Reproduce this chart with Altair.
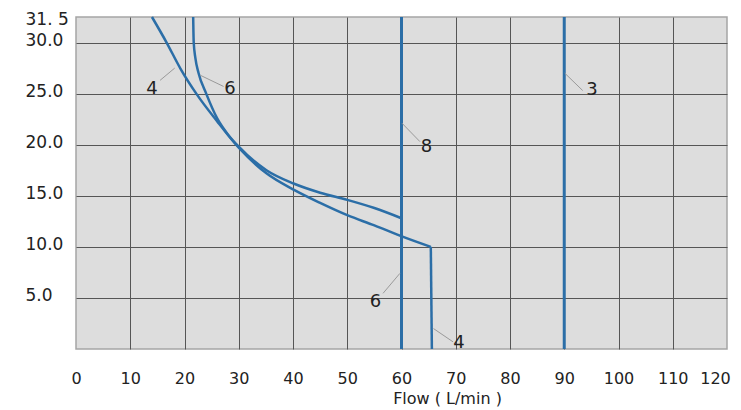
import altair as alt
import pandas as pd

# ---- data ----
c4_x = [14.0, 16.7, 19.3, 22.3, 26.0, 30.0, 35.1, 40.1, 45.0, 50.0, 55.0, 59.7, 65.4]
c4_y = [32.5, 30.0, 27.4, 24.9, 22.3, 19.7, 17.2, 15.6, 14.3, 13.1, 12.1, 11.1, 10.0]
c4_drop_x = [65.4, 65.6]
c4_drop_y = [10.0, 0.0]

c6_x = [21.6, 21.7, 22.0, 22.6, 24.0, 26.0, 28.0, 30.0, 35.1, 40.1, 45.0, 50.0, 55.0, 60.0]
c6_y = [32.5, 30.0, 28.5, 27.0, 25.0, 22.6, 21.0, 19.8, 17.5, 16.2, 15.3, 14.6, 13.8, 12.8]
c6_drop_x = [60.0, 60.0]
c6_drop_y = [12.8, 0.0]

c8_x = [60.0, 60.0]
c8_y = [0.0, 32.5]
c3_x = [90.0, 90.0]
c3_y = [0.0, 32.5]

lab_text = ["4", "6", "8", "3", "6", "4"]
lab_x = [14.0, 28.4, 64.6, 95.1, 55.2, 70.6]
lab_y = [25.5, 25.5, 19.8, 25.4, 4.6, 0.55]
lead_x1 = [15.5, 22.9, 60.1, 90.1, 56.6, 65.9]
lead_y1 = [26.3, 26.8, 22.1, 27.0, 5.45, 2.0]
lead_x2 = [18.2, 27.2, 63.4, 93.4, 59.7, 69.5]
lead_y2 = [27.5, 25.7, 20.3, 25.3, 7.4, 0.7]

x_ticks = list(range(0, 121, 10))
y_ticks = [5, 10, 15, 20, 25, 30, 32.5]
y_tick_labels = ["5.0", "10.0", "15.0", "20.0", "25.0", "30.0", "31. 5"]
x_title = "Flow ( L/min )"

# ---- tables ----
def seg(name, xs, ys):
    return pd.DataFrame({"seg": name, "x": xs, "y": ys, "o": range(len(xs))})

curves = pd.concat([seg("c4", c4_x, c4_y), seg("c6", c6_x, c6_y)])
straight = pd.concat([seg("c4d", c4_drop_x, c4_drop_y), seg("c6d", c6_drop_x, c6_drop_y)])
verticals = pd.concat([seg("c8", c8_x, c8_y), seg("c3", c3_x, c3_y)])
labels = pd.DataFrame({"t": lab_text, "x": lab_x, "y": lab_y})
leaders = pd.DataFrame({"x": lead_x1, "y": lead_y1, "x2": lead_x2, "y2": lead_y2})

FONT = "DejaVu Sans"
BLUE = "#2b6ea7"

label_expr = " : ".join(
    [f"datum.value == {v} ? '{t}'" for v, t in zip(y_ticks, y_tick_labels)]
) + " : ''"

xs = alt.Scale(domain=[0, 120], nice=False, zero=False)
ys = alt.Scale(domain=[0, 32.5], nice=False, zero=False)

x_axis = alt.Axis(
    values=x_ticks, labelFont=FONT, labelFontSize=16, labelColor="#222",
    labelBaseline="alphabetic", labelPadding=34, labelFlush=False,
    labelOffset={"condition": {"test": "datum.value == 120", "value": -12}, "value": 0},
    ticks=False, tickSize=0, domain=False, grid=True,
    gridColor="#555555", gridWidth=1,
    gridOpacity={"condition": {"test": "datum.value == 0 || datum.value == 120", "value": 0}, "value": 1},
    title=x_title, titleFont=FONT, titleFontSize=16, titleFontWeight="normal",
    titleColor="#222", titleX=371, titleY=54, titleBaseline="alphabetic",
)
y_axis = alt.Axis(
    values=y_ticks, labelExpr=label_expr, labelFont=FONT, labelFontSize=17,
    labelColor="#222", labelAlign="left", labelBaseline="middle", labelPadding=51,
    labelOffset={"condition": {"test": "datum.value > 31", "value": 2}, "value": -2},
    ticks=False, tickSize=0, domain=False, grid=True,
    gridColor="#555555", gridWidth=1,
    gridOpacity={"condition": {"test": "datum.value > 31", "value": 0}, "value": 1},
    title=None,
)

curve_layer = alt.Chart(curves).mark_line(color=BLUE, strokeWidth=2.5, interpolate="monotone").encode(
    x=alt.X("x:Q", scale=xs, axis=x_axis),
    y=alt.Y("y:Q", scale=ys, axis=y_axis),
    detail="seg:N",
    order="o:Q",
)
straight_layer = alt.Chart(straight).mark_line(color=BLUE, strokeWidth=2.5).encode(
    x=alt.X("x:Q", scale=xs), y=alt.Y("y:Q", scale=ys), detail="seg:N", order="o:Q",
)
vert_layer = alt.Chart(verticals).mark_line(color=BLUE, strokeWidth=3).encode(
    x=alt.X("x:Q", scale=xs), y=alt.Y("y:Q", scale=ys), detail="seg:N", order="o:Q",
)
lead_layer = alt.Chart(leaders).mark_rule(color="#9a9a9a", strokeWidth=1).encode(
    x=alt.X("x:Q", scale=xs), y=alt.Y("y:Q", scale=ys), x2="x2:Q", y2="y2:Q",
)
text_layer = alt.Chart(labels).mark_text(font=FONT, fontSize=18, color="#222").encode(
    x=alt.X("x:Q", scale=xs), y=alt.Y("y:Q", scale=ys), text="t:N",
)

chart = alt.layer(
    curve_layer, straight_layer, vert_layer, lead_layer, text_layer
).properties(
    width=651, height=332,
    autosize=alt.AutoSizeParams(type="none"),
    padding={"left": 68, "top": 9, "right": 6, "bottom": 64},
    background="white",
).configure_view(
    fill="#dddddd", stroke="#a5a5a5", strokeWidth=1.5,
)

chart.save("out.html", embed_options={"renderer": "svg", "actions": False})
